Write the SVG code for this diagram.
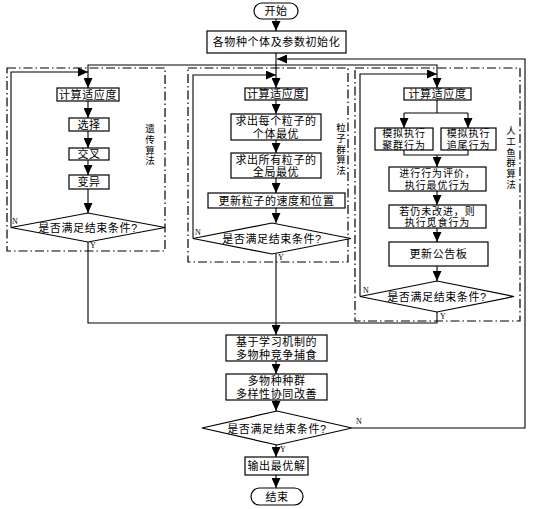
<svg xmlns="http://www.w3.org/2000/svg" width="534" height="509" viewBox="0 0 534 509" lang="zh-CN">
<style>
.bx{fill:#fff;stroke:#000;stroke-width:1.2}
.dd{fill:none;stroke:#000;stroke-width:1.2;stroke-dasharray:9 3 1.5 3}
.ln{fill:none;stroke:#000;stroke-width:1.1}
.t{font-family:"Liberation Sans","Noto Sans CJK SC",sans-serif;font-size:11px;fill:#000;text-anchor:middle;dominant-baseline:central;letter-spacing:0.6px}
.t2{font-family:"Liberation Sans","Noto Sans CJK SC",sans-serif;font-size:10px;fill:#000;text-anchor:middle;dominant-baseline:central;letter-spacing:0.9px}
.v{font-family:"Liberation Sans","Noto Sans CJK SC",sans-serif;font-size:9.5px;fill:#000;text-anchor:middle;dominant-baseline:central}
.s{font-family:"Liberation Serif",serif;font-size:8px;fill:#000}
</style>
<defs>
<marker id="a" markerWidth="10" markerHeight="9" refX="10" refY="4.5" orient="auto" markerUnits="userSpaceOnUse"><path d="M0,0 L10,4.5 L0,9 z" fill="#000"/></marker>
</defs>
<rect width="534" height="509" fill="#fff"/>

<g id="frames">
<rect class="dd" x="7" y="68" width="158" height="183"/>
<rect class="dd" x="188" y="68" width="160" height="194"/>
<rect class="dd" x="355" y="68" width="165" height="253"/>
<text class="v" y="128"><tspan x="150">遗</tspan><tspan x="150" dy="10.8">传</tspan><tspan x="150" dy="10.8">算</tspan><tspan x="150" dy="10.8">法</tspan></text>
<text class="v" y="127"><tspan x="341">粒</tspan><tspan x="341" dy="10.8">子</tspan><tspan x="341" dy="10.8">群</tspan><tspan x="341" dy="10.8">算</tspan><tspan x="341" dy="10.8">法</tspan></text>
<text class="v" y="130"><tspan x="511">人</tspan><tspan x="511" dy="10.8">工</tspan><tspan x="511" dy="10.8">鱼</tspan><tspan x="511" dy="10.8">群</tspan><tspan x="511" dy="10.8">算</tspan><tspan x="511" dy="10.8">法</tspan></text>
</g>

<g id="connectors">
<path class="ln" d="M276,19 V31" marker-end="url(#a)"/>
<path class="ln" d="M276,53 V88" marker-end="url(#a)"/>
<path class="ln" d="M276,65 H88 V88" marker-end="url(#a)"/>
<path class="ln" d="M276,65 H437 V88" marker-end="url(#a)"/>
<path class="ln" d="M11,227.5 V72 H88" marker-end="url(#a)"/>
<path class="ln" d="M88,101 V118" marker-end="url(#a)"/>
<path class="ln" d="M88,131 V148" marker-end="url(#a)"/>
<path class="ln" d="M88,160 V175" marker-end="url(#a)"/>
<path class="ln" d="M88,189 V213" marker-end="url(#a)"/>
<path class="ln" d="M88,242 V323 H437 V312"/>
<path class="ln" d="M193,238.5 V75 H276" marker-end="url(#a)"/>
<path class="ln" d="M276,100 V114" marker-end="url(#a)"/>
<path class="ln" d="M276,140 V153" marker-end="url(#a)"/>
<path class="ln" d="M276,178 V193" marker-end="url(#a)"/>
<path class="ln" d="M276,208 V223" marker-end="url(#a)"/>
<path class="ln" d="M276,254 V335" marker-end="url(#a)"/>
<path class="ln" d="M360,296.5 V74 H437" marker-end="url(#a)"/>
<path class="ln" d="M437,100 V113 M404,113 H468"/>
<path class="ln" d="M404,113 V128" marker-end="url(#a)"/>
<path class="ln" d="M468,113 V128" marker-end="url(#a)"/>
<path class="ln" d="M404,150 V155 H468 V150"/>
<path class="ln" d="M437,155 V167" marker-end="url(#a)"/>
<path class="ln" d="M437,191 V205" marker-end="url(#a)"/>
<path class="ln" d="M437,228 V242" marker-end="url(#a)"/>
<path class="ln" d="M437,266 V281" marker-end="url(#a)"/>
<path class="ln" d="M276,361 V374" marker-end="url(#a)"/>
<path class="ln" d="M276,400 V411" marker-end="url(#a)"/>
<path class="ln" d="M276,445 V457" marker-end="url(#a)"/>
<path class="ln" d="M276,475 V488" marker-end="url(#a)"/>
<path class="ln" d="M352,428 H525 V59 H277" marker-end="url(#a)"/>
<text class="s" x="12" y="224">N</text>
<text class="s" x="90" y="248">Y</text>
<text class="s" x="195" y="235">N</text>
<text class="s" x="278" y="260">Y</text>
<text class="s" x="363" y="293">N</text>
<text class="s" x="440" y="319">Y</text>
<text class="s" x="356" y="424">N</text>
<text class="s" x="280" y="452">Y</text>
</g>

<g id="start"><rect class="bx" x="254" y="3" width="44" height="16" rx="8"/><text class="t" x="276" y="11">开始</text></g>
<g id="init"><rect class="bx" x="207" y="31" width="139" height="22"/><text class="t" x="276.5" y="42">各物种个体及参数初始化</text></g>

<g id="ga-fit"><rect class="bx" x="57" y="88" width="62" height="13"/><text class="t" x="88" y="94.5">计算适应度</text></g>
<g id="ga-sel"><rect class="bx" x="69" y="118" width="40" height="13"/><text class="t" x="89" y="124.5">选择</text></g>
<g id="ga-cross"><rect class="bx" x="69" y="148" width="40" height="12"/><text class="t" x="89" y="154">交叉</text></g>
<g id="ga-mut"><rect class="bx" x="69" y="175" width="40" height="14"/><text class="t" x="89" y="182">变异</text></g>
<g id="ga-dec"><path class="bx" d="M11,227.5 L88,213 L165,227.5 L88,242 Z"/><text class="t" x="88" y="228">是否满足结束条件?</text></g>

<g id="pso-fit"><rect class="bx" x="245" y="88" width="62" height="12"/><text class="t" x="276" y="94">计算适应度</text></g>
<g id="pso-pbest"><rect class="bx" x="231" y="114" width="90" height="26"/><text class="t" y="120.5"><tspan x="276">求出每个粒子的</tspan><tspan x="276" dy="13">个体最优</tspan></text></g>
<g id="pso-gbest"><rect class="bx" x="231" y="153" width="90" height="25"/><text class="t" y="159.5"><tspan x="276">求出所有粒子的</tspan><tspan x="276" dy="12.5">全局最优</tspan></text></g>
<g id="pso-upd"><rect class="bx" x="208" y="193" width="137" height="15"/><text class="t" x="276.5" y="200.5">更新粒子的速度和位置</text></g>
<g id="pso-dec"><path class="bx" d="M193,238.5 L272,223 L351,238.5 L272,254 Z"/><text class="t" x="272" y="239">是否满足结束条件?</text></g>

<g id="af-fit"><rect class="bx" x="404" y="88" width="67" height="12"/><text class="t" x="437.5" y="94">计算适应度</text></g>
<g id="af-swarm"><rect class="bx" x="375" y="128" width="58" height="22"/><text class="t2" y="133.3"><tspan x="404">模拟执行</tspan><tspan x="404" dy="11.5">聚群行为</tspan></text></g>
<g id="af-follow"><rect class="bx" x="441" y="128" width="55" height="22"/><text class="t2" y="133.3"><tspan x="468.5">模拟执行</tspan><tspan x="468.5" dy="11.5">追尾行为</tspan></text></g>
<g id="af-eval"><rect class="bx" x="389" y="167" width="97" height="24"/><text class="t2" y="173"><tspan x="437.5">进行行为评价，</tspan><tspan x="437.5" dy="12">执行最优行为</tspan></text></g>
<g id="af-prey"><rect class="bx" x="389" y="205" width="97" height="23"/><text class="t2" y="210.7"><tspan x="437.5">若仍未改进，则</tspan><tspan x="437.5" dy="11.6">执行觅食行为</tspan></text></g>
<g id="af-board"><rect class="bx" x="389" y="242" width="99" height="24"/><text class="t" x="438.5" y="254">更新公告板</text></g>
<g id="af-dec"><path class="bx" d="M360,296.5 L437,281 L514,296.5 L437,312 Z"/><text class="t" x="437" y="297">是否满足结束条件?</text></g>

<g id="compete"><rect class="bx" x="226" y="335" width="101" height="26"/><text class="t" y="341.5"><tspan x="276.5">基于学习机制的</tspan><tspan x="276.5" dy="13">多物种竞争捕食</tspan></text></g>
<g id="cooperate"><rect class="bx" x="226" y="374" width="101" height="26"/><text class="t" y="380.5"><tspan x="276.5">多物种种群</tspan><tspan x="276.5" dy="13">多样性协同改善</tspan></text></g>
<g id="main-dec"><path class="bx" d="M202,428 L277,411 L352,428 L277,445 Z"/><text class="t" x="277" y="428.5">是否满足结束条件?</text></g>
<g id="output"><rect class="bx" x="245" y="457" width="63" height="18"/><text class="t" x="276.5" y="466">输出最优解</text></g>
<g id="end"><rect class="bx" x="251" y="488" width="52" height="17" rx="8.5"/><text class="t" x="277" y="496.5">结束</text></g>
</svg>
